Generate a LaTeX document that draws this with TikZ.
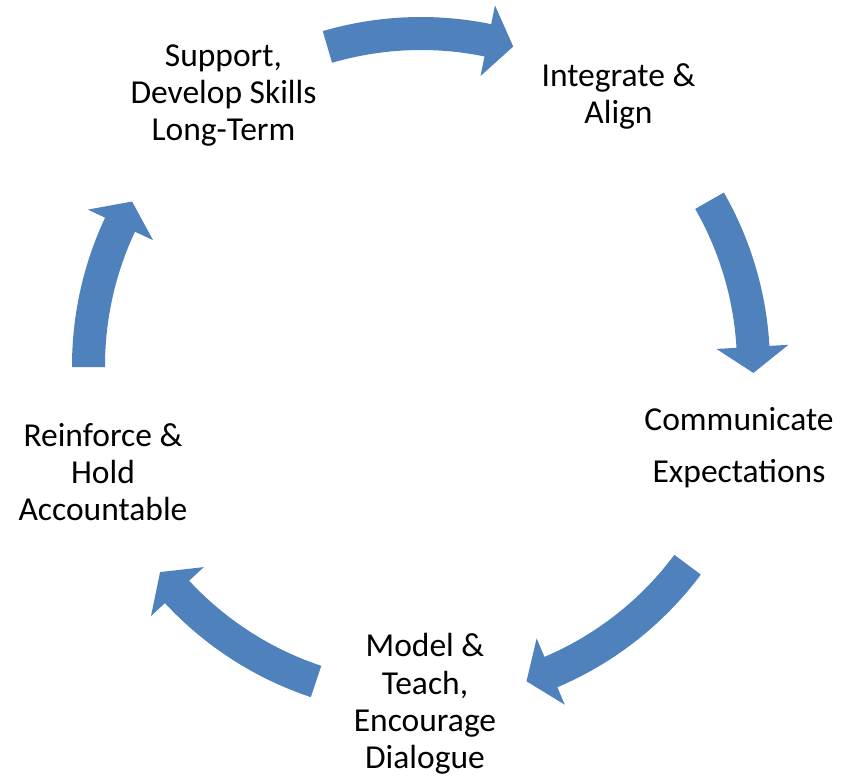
\documentclass[tikz,border=0pt]{standalone}
\usepackage{fontspec}
\setmainfont{Carlito}
\definecolor{cycleblue}{RGB}{79,129,189}
\tikzset{
  stage/.style={align=center, anchor=base, inner sep=0pt, text=black,
    font=\fontsize{33.5}{37}\selectfont},
  widestage/.style={stage, font=\fontsize{33.5}{52}\selectfont},
  cyclearrow/.style={fill=cycleblue, draw=none}
}
% curved block arrow running clockwise on the ring: #1 = tail angle, #2 = tip angle
\newcommand\bentarrow[2]{%
  \pgfmathsetmacro\headbase{#2+4.5}%
  \fill[cyclearrow] (#1:349) arc[start angle=#1, end angle=\headbase, radius=349]
    -- (\headbase:368) -- (#2:332.5) -- (\headbase:296) -- (\headbase:316)
    arc[start angle=\headbase, end angle=#1, radius=316] -- cycle;
}
\begin{document}
\begin{tikzpicture}[x=1pt, y=1pt]
  \path[use as bounding box] (0,0) rectangle (842,778);

  % arrows around the ring
  \begin{scope}[shift={(421,412)}]
    \bentarrow{106.35}{73.9}
    \bentarrow{29.8}{-1.2}
    \bentarrow{-36.7}{-71.5}
    \bentarrow{-108.4}{-141.7}
    \bentarrow{180.2}{150.35}
  \end{scope}

  % stage labels (anchored at the baseline of the last line)
  \node[stage] (support) at (223.5,637) {Support,\\Develop Skills\\Long-Term};
  \node[stage] (integrate) at (618.5,654) {Integrate \&\\Align};
  \node[widestage] (communicate) at (739,295) {Communicate\\Expectations};
  \node[stage] (model) at (425,10) {Model \&\\Teach,\\Encourage\\Dialogue};
  \node[stage] (reinforce) at (103,257) {Reinforce \&\\Hold\\Accountable};
\end{tikzpicture}
\end{document}
